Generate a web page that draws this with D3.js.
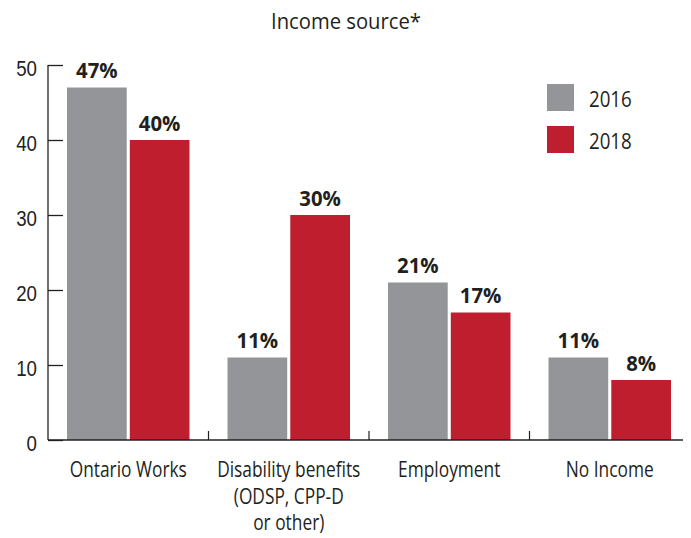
<!DOCTYPE html>
<html>
<head>
<meta charset="utf-8">
<script src="https://cdn.jsdelivr.net/npm/d3@7"></script>
<style>
  html, body { margin: 0; padding: 0; background: #fff; }
  svg { display: block; font-family: "Open Sans", "Noto Sans", sans-serif; }
</style>
</head>
<body>
<svg id="chart" width="691" height="538"></svg>
<script>
// Income source shares by survey year
const categories = ["Ontario Works", "Disability benefits\n(ODSP, CPP-D\nor other)", "Employment", "No Income"];
const years = ["2016", "2018"];
const values2016 = [47, 11, 21, 11];
const values2018 = [40, 30, 17, 8];
const yTicks = [0, 10, 20, 30, 40, 50];

const colors = { "2016": "#939598", "2018": "#be1e2d" };
const textColor = "#231f20";

const svg = d3.select("#chart");
const x0 = 48, x1 = 690, yBottom = 440, yTop = 65;

const x = d3.scaleBand().domain(categories).range([x0, x1]);
const xInner = d3.scaleBand().domain(years).range([19, x.bandwidth() - 19]).paddingInner(0.049);
const y = d3.scaleLinear().domain([0, 50]).range([yBottom, yTop]);

// Narrow type: place text at (px, py) and compress it horizontally
const narrow = (px, py, sx) => `translate(${px},${py}) scale(${sx},1)`;

// Title
svg.append("text")
  .attr("transform", narrow(346, 28.5, 0.92))
  .attr("text-anchor", "middle")
  .attr("font-size", 22)
  .attr("fill", textColor)
  .text("Income source*");

// Y axis
const yAxis = d3.axisRight(y).tickValues(yTicks).tickSize(15).tickFormat(d3.format("d"));
const gy = svg.append("g").attr("transform", `translate(${x0},0)`).call(yAxis);
gy.select(".domain").attr("stroke", "#231f20").attr("stroke-width", 1.3).attr("d", `M0,${yTop}V${yBottom}`);
gy.selectAll(".tick line").attr("stroke", "#231f20").attr("stroke-width", 1.3);
gy.selectAll(".tick text")
  .attr("x", null).attr("dy", null)
  .attr("transform", narrow(-11, 10, 0.85))
  .attr("text-anchor", "end")
  .attr("font-size", 22)
  .attr("font-family", null)
  .attr("fill", textColor);

// Bars
const data = categories.map((c, i) => ({ cat: c, vals: [
  { year: "2016", v: values2016[i] },
  { year: "2018", v: values2018[i] }
]}));

const groups = svg.append("g").selectAll("g").data(data).join("g")
  .attr("transform", d => `translate(${x(d.cat)},0)`);

groups.selectAll("rect").data(d => d.vals).join("rect")
  .attr("x", d => xInner(d.year))
  .attr("width", xInner.bandwidth())
  .attr("y", d => y(d.v))
  .attr("height", d => y(0) - y(d.v))
  .attr("fill", d => colors[d.year]);

groups.selectAll("text.val").data(d => d.vals).join("text")
  .attr("class", "val")
  .attr("transform", d => narrow(xInner(d.year) + xInner.bandwidth() / 2, y(d.v) - 9.5, 0.97))
  .attr("text-anchor", "middle")
  .attr("font-size", 21)
  .attr("font-weight", "bold")
  .attr("fill", textColor)
  .text(d => d.v + "%");

// X axis
const xAxis = d3.axisBottom(x).tickSize(0).tickFormat("");
const gx = svg.append("g").attr("transform", `translate(0,${yBottom})`).call(xAxis);
gx.select(".domain").attr("stroke", "#231f20").attr("stroke-width", 1.3).attr("d", `M${x0},0H683`);
gx.selectAll(".tick").remove();

// Separators between category groups
svg.append("g").selectAll("line").data(categories.slice(1)).join("line")
  .attr("x1", d => x(d)).attr("x2", d => x(d))
  .attr("y1", yBottom - 9).attr("y2", yBottom)
  .attr("stroke", "#231f20").attr("stroke-width", 1.2);

// Category labels
svg.append("g").selectAll("text").data(categories).join("text")
  .attr("transform", d => narrow(x(d) + x.bandwidth() / 2, 477, 0.825))
  .attr("text-anchor", "middle")
  .attr("font-size", 21)
  .attr("fill", textColor)
  .each(function(d) {
    const t = d3.select(this);
    d.split("\n").forEach((line, i) => {
      t.append("tspan")
        .attr("x", 0)
        .attr("dy", i === 0 ? 0 : 26.7)
        .text(line);
    });
  });

// Legend
const legend = svg.append("g").selectAll("g").data(years).join("g")
  .attr("transform", (d, i) => `translate(547,${84 + i * 42})`);
legend.append("rect").attr("width", 27).attr("height", 27).attr("fill", d => colors[d]);
legend.append("text")
  .attr("transform", narrow(42, 22.5, 0.85))
  .attr("font-size", 22)
  .attr("fill", textColor)
  .text(d => d);
</script>
</body>
</html>
